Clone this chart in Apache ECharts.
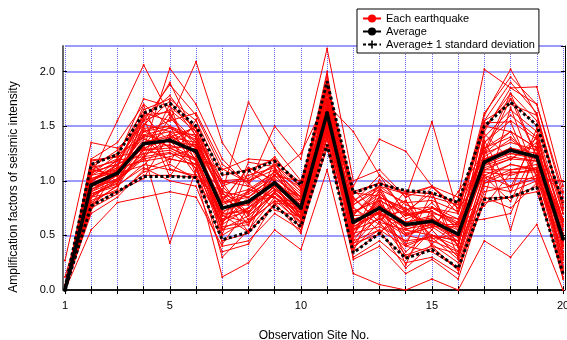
<!DOCTYPE html>
<html>
<head>
<meta charset="utf-8">
<script src="https://cdn.jsdelivr.net/npm/echarts@6/dist/echarts.min.js"></script>
<style>
  html, body { margin: 0; padding: 0; background: #fff; }
  #chart { width: 567px; height: 340px; }
</style>
</head>
<body>
<div id="chart"></div>
<script>
// observation sites 1..20
const sites = [1, 2, 3, 4, 5, 6, 7, 8, 9, 10, 11, 12, 13, 14, 15, 16, 17, 18, 19, 20];
const siteLabels = [1, 5, 10, 15, 20];

// mean and mean +/- 1 sd
const average = [0.00, 0.96, 1.07, 1.34, 1.37, 1.27, 0.75, 0.81, 0.98, 0.75, 1.62, 0.62, 0.75, 0.60, 0.63, 0.51, 1.17, 1.28, 1.22, 0.47];
const upperSd = [0.02, 1.15, 1.24, 1.62, 1.71, 1.50, 1.06, 1.09, 1.18, 0.96, 1.91, 0.89, 0.97, 0.91, 0.89, 0.80, 1.50, 1.72, 1.51, 0.80];
const lowerSd = [0.00, 0.77, 0.90, 1.04, 1.04, 1.03, 0.46, 0.53, 0.77, 0.58, 1.33, 0.34, 0.52, 0.29, 0.37, 0.20, 0.83, 0.85, 0.94, 0.15];

// each earthquake (one row per event)
const earthquakes = [
  [0.00,0.95,1.10,1.40,1.45,1.30,0.80,0.85,1.00,0.75,1.65,0.60,0.80,0.55,0.65,0.50,1.20,1.30,1.25,0.45],
  [0.02,1.15,1.25,1.65,1.75,1.55,1.05,1.10,1.20,0.95,1.90,0.90,0.98,0.90,0.88,0.80,1.50,1.75,1.50,0.80],
  [0.00,0.78,0.90,1.05,1.05,1.03,0.45,0.52,0.78,0.58,1.33,0.35,0.52,0.30,0.38,0.20,0.84,0.85,0.95,0.15],
  [0.27,1.35,1.30,1.50,1.90,1.40,0.95,0.70,1.10,0.85,1.70,0.75,0.60,0.45,0.70,0.40,1.35,1.60,1.40,0.60],
  [0.00,0.85,1.00,1.25,0.43,1.10,0.60,0.75,0.95,0.70,1.55,0.50,0.85,0.75,0.55,0.30,1.00,1.10,1.15,0.30],
  [0.05,1.05,1.55,2.06,1.60,1.35,0.70,0.90,1.05,0.80,1.80,0.65,0.70,0.40,0.50,0.45,1.25,1.45,1.30,0.55],
  [0.00,1.00,1.15,1.30,2.03,1.70,1.20,0.95,0.85,0.65,1.45,0.80,1.05,0.70,0.60,0.60,1.60,2.02,1.60,0.70],
  [0.00,0.90,1.05,1.45,1.55,2.09,1.35,1.00,1.15,0.90,2.00,0.45,0.75,0.60,0.80,0.55,1.10,1.20,1.35,0.50],
  [0.02,0.70,0.85,1.10,1.20,1.15,0.30,0.55,0.85,0.60,1.40,0.30,0.45,0.25,0.30,0.15,0.95,0.90,1.00,0.10],
  [0.00,1.10,1.20,1.55,1.65,1.45,0.90,1.72,1.30,1.00,1.75,0.70,0.90,0.65,0.75,0.70,1.30,1.40,1.20,0.65],
  [0.12,0.95,1.00,1.20,1.25,1.20,0.55,0.60,0.90,0.70,1.50,0.55,0.65,0.50,0.45,0.35,1.05,1.15,1.10,0.35],
  [0.00,1.20,1.35,1.70,1.50,1.40,1.00,0.95,1.50,1.20,2.21,1.00,1.10,0.85,0.95,0.75,1.45,1.85,1.70,0.85],
  [0.00,0.80,0.95,1.15,1.10,1.05,0.12,0.25,0.55,0.37,1.10,0.15,0.05,0.00,0.10,0.00,0.45,0.30,0.60,0.00],
  [0.00,1.00,1.10,1.35,1.40,1.25,0.75,0.80,1.00,0.80,1.60,0.60,0.75,0.60,0.65,0.55,1.20,1.25,1.20,0.45],
  [0.03,1.10,1.05,1.60,1.35,1.50,0.85,0.70,0.95,0.65,1.70,1.45,1.05,0.85,1.54,0.70,1.55,1.70,1.60,0.75],
  [0.00,0.88,0.98,1.28,1.30,1.18,0.65,0.72,0.92,0.72,1.58,0.55,0.72,0.50,0.58,0.42,1.12,1.20,1.18,0.40],
  [0.00,1.05,1.18,1.48,1.50,1.36,0.85,0.92,1.08,0.82,1.72,0.72,0.82,0.70,0.72,0.60,1.30,1.45,1.30,0.58],
  [0.00,0.92,1.02,1.32,1.62,1.22,0.68,0.62,0.88,0.68,1.55,0.42,0.68,0.35,0.55,0.30,1.08,1.05,1.12,0.25],
  [0.01,1.02,1.12,1.18,1.22,1.30,0.78,0.88,1.02,0.85,1.68,0.68,0.95,0.78,0.70,0.65,1.25,1.35,1.28,0.52],
  [0.00,0.82,0.92,1.58,1.78,1.45,0.95,1.05,1.12,0.90,1.85,0.85,0.62,0.55,0.50,0.40,1.40,1.65,1.45,0.70],
  [0.00,1.08,1.15,1.25,1.28,1.15,0.50,0.65,0.90,0.62,1.45,0.45,0.55,0.20,0.42,0.25,0.90,0.95,1.05,0.20],
  [0.04,0.98,1.08,1.42,1.48,1.38,0.88,0.78,1.00,0.78,1.62,0.62,0.78,0.62,0.68,0.52,1.18,1.30,1.22,0.50],
  [0.00,0.75,0.88,1.08,1.15,1.02,0.62,0.82,0.85,0.66,1.38,0.52,0.58,0.45,0.48,0.28,0.98,1.02,1.02,0.32],
  [0.00,1.12,1.28,1.55,1.88,1.60,1.10,1.20,1.18,0.98,1.88,0.88,0.98,0.88,0.85,0.78,1.48,1.80,1.55,0.78],
  [0.00,0.55,0.80,0.85,0.90,0.85,0.40,0.45,0.70,0.55,1.30,0.40,0.55,0.40,0.35,0.20,0.80,0.85,0.90,0.20],
  [0.00,0.95,1.05,1.38,1.32,1.28,0.72,0.80,0.98,0.75,1.64,0.58,0.70,0.58,0.62,0.48,1.15,1.25,1.22,0.48],
  [0.02,1.18,1.22,1.75,1.68,1.48,1.00,1.02,1.22,0.92,1.82,0.78,0.92,0.80,0.82,0.72,1.55,1.90,1.62,0.75],
  [0.00,0.85,1.00,1.22,1.40,1.35,0.58,0.62,0.82,0.62,1.48,0.38,0.62,0.32,0.40,0.18,1.02,1.15,1.10,0.22],
  [0.00,1.00,1.12,1.30,1.38,1.05,0.80,0.90,1.08,0.88,1.66,0.70,0.88,0.68,0.75,0.62,0.65,0.70,1.25,0.60],
  [0.00,0.92,1.05,1.48,1.30,1.20,0.70,0.72,0.96,0.74,1.60,0.62,0.76,0.62,0.66,0.50,1.22,1.38,1.20,0.42],
  [0.00,1.05,1.10,1.20,1.58,1.32,0.62,0.85,1.05,0.82,1.75,0.55,0.85,0.72,0.58,0.58,1.32,0.55,1.35,0.38],
  [0.00,0.88,0.95,1.30,1.20,1.15,0.92,0.68,0.88,0.70,1.52,0.68,0.70,0.52,0.60,0.45,1.10,1.10,1.12,0.50],
  [0.00,0.98,1.20,1.52,1.45,1.42,0.82,1.12,1.00,0.72,1.68,0.60,0.82,0.68,0.72,0.58,1.35,1.55,1.38,0.65],
  [0.00,0.78,0.96,1.12,1.00,0.95,0.35,0.42,0.80,0.52,1.42,0.28,0.40,0.15,0.28,0.10,0.85,0.75,0.98,0.12],
  [0.00,1.08,1.15,1.62,1.55,1.62,1.15,0.98,1.15,0.95,1.92,0.82,0.95,0.88,0.95,0.70,1.62,1.95,1.70,0.90],
  [0.01,0.95,1.08,1.35,1.42,1.25,0.75,0.78,0.98,0.78,1.62,0.62,0.78,0.60,0.62,0.50,1.20,1.28,1.22,0.48],
  [0.00,1.02,1.08,1.45,1.50,1.30,0.90,0.85,1.05,1.25,1.75,0.95,1.38,1.27,0.95,0.85,2.02,1.85,1.86,0.95],
  [0.00,0.90,1.00,1.28,1.33,1.20,0.68,0.75,0.92,0.74,1.58,0.58,0.72,0.56,0.60,0.48,1.14,1.22,1.18,0.44],
  [0.00,1.12,1.18,1.42,1.35,1.33,0.98,1.00,1.10,0.84,1.70,0.70,0.85,0.74,0.76,0.65,1.05,0.95,1.02,1.00],
  [0.00,0.86,1.02,1.22,1.26,1.12,0.56,0.68,0.90,0.66,1.50,0.48,0.66,0.42,0.50,0.36,0.98,1.08,1.08,0.30],
  [0.00,1.15,0.99,1.57,1.04,1.39,0.51,1.09,0.92,0.86,1.33,0.84,0.62,0.91,0.42,0.63,0.84,1.67,1.02,0.63],
  [0.00,0.77,1.19,1.22,1.70,1.05,0.90,0.59,1.19,0.65,1.82,0.35,0.93,0.41,0.89,0.30,1.37,0.89,1.48,0.34],
  [0.00,1.06,1.24,1.40,1.17,1.56,0.84,0.53,1.08,0.94,1.68,0.49,1.01,0.72,0.50,0.45,1.53,1.54,0.96,0.73],
  [0.00,0.85,0.90,1.02,1.44,1.20,1.11,0.98,0.73,0.67,1.88,0.76,0.53,0.69,0.94,0.75,1.04,0.81,1.31,0.82],
  [0.00,1.00,1.14,1.60,1.63,1.17,0.60,1.17,1.13,0.64,1.62,0.89,0.86,0.29,0.55,0.90,1.27,1.80,1.22,0.28],
  [0.00,0.92,1.07,1.14,1.40,1.49,0.42,0.75,1.04,1.00,1.45,0.65,0.71,0.82,0.40,0.33,1.24,1.75,1.22,0.47],
  [0.00,1.11,1.04,1.46,1.30,1.32,0.99,0.64,0.81,0.83,1.97,0.54,0.82,0.23,0.76,0.60,0.77,1.07,1.10,0.89],
  [0.00,0.73,1.12,1.69,1.11,1.03,0.81,1.12,1.00,0.54,1.54,0.92,0.68,0.72,0.89,0.39,1.43,1.19,1.39,0.18],
  [0.00,1.19,1.22,1.28,1.50,1.10,0.69,0.53,0.79,0.79,1.91,0.43,0.51,0.82,0.47,0.51,1.50,1.45,1.05,0.41],
  [0.00,0.88,0.97,1.51,1.73,1.41,0.63,0.92,0.85,0.71,1.39,0.78,0.95,0.51,0.58,0.81,1.20,0.94,1.42,0.63]
];

const FONT = 'Liberation Sans';
const plusIcon = 'path://M4,0H6V4H10V6H6V10H4V6H0V4H4Z';
const sdName = 'Average\u00B1 1 standard deviation';

function pairs(values) {
  return values.map((v, i) => [sites[i], v]);
}

const series = [];
earthquakes.forEach(row => {
  series.push({
    name: 'Each earthquake',
    type: 'line',
    data: pairs(row),
    symbol: 'circle',
    symbolSize: 2,
    itemStyle: { color: '#ff0000' },
    lineStyle: { color: '#ff0000', width: 1 },
    silent: true
  });
});
[upperSd, lowerSd].forEach(row => {
  series.push({
    name: sdName,
    type: 'line',
    data: pairs(row),
    symbol: plusIcon,
    symbolSize: 7,
    showSymbol: false,
    itemStyle: { color: '#000' },
    lineStyle: { color: '#000', width: 3, type: [3, 2.5] },
    z: 5
  });
});
series.push({
  name: 'Average',
  type: 'line',
  data: pairs(average),
  symbol: 'circle',
  symbolSize: 4,
  itemStyle: { color: '#000' },
  lineStyle: { color: '#000', width: 3.5 },
  z: 6
});

const chart = echarts.init(document.getElementById('chart'));
chart.setOption({
  animation: false,
  backgroundColor: '#fff',
  textStyle: { fontFamily: FONT },
  grid: { left: 65, right: 4, top: 46, bottom: 50, outerBoundsMode: 'none', containLabel: false },
  legend: {
    data: ['Each earthquake', 'Average', sdName],
    left: 357,
    top: 9,
    orient: 'vertical',
    itemWidth: 18,
    itemHeight: 10,
    itemGap: 2,
    padding: [4, 4, 3, 5],
    backgroundColor: '#fff',
    borderColor: '#000',
    borderWidth: 1,
    borderRadius: 0,
    textStyle: { fontFamily: FONT, fontSize: 11, color: '#000' },
    z: 10
  },
  xAxis: [
    {
      type: 'value',
      min: 1,
      max: 20,
      interval: 1,
      offset: 5,
      name: 'Observation Site No.',
      nameLocation: 'middle',
      nameGap: 35,
      nameTextStyle: { fontFamily: FONT, fontSize: 12, color: '#000' },
      axisLine: { lineStyle: { color: '#666', width: 2 } },
      axisTick: { inside: true, length: 4, lineStyle: { color: '#000' } },
      axisLabel: {
        margin: 5,
        fontSize: 11,
        color: '#000',
        formatter: v => (siteLabels.indexOf(v) >= 0 ? String(v) : '')
      },
      splitLine: { show: true, lineStyle: { color: '#6b6bff', type: [1, 1], width: 1 } }
    },
    {
      type: 'value',
      position: 'top',
      min: 1,
      max: 20,
      interval: 1,
      axisLine: { lineStyle: { color: '#000', width: 1.5 } },
      axisTick: { inside: true, length: 4, lineStyle: { color: '#000' } },
      axisLabel: { show: false },
      splitLine: { show: false }
    }
  ],
  yAxis: [
    {
      type: 'value',
      min: 0,
      max: 2.234,
      interval: 0.5,
      offset: 2,
      axisLine: { show: true, lineStyle: { color: '#666', width: 2 } },
      axisTick: { show: true, inside: true, length: 4, lineStyle: { color: '#000' } },
      axisLabel: {
        margin: 8,
        fontSize: 11,
        color: '#000',
        formatter: v => v.toFixed(1),
        showMaxLabel: false
      },
      splitLine: { show: true, lineStyle: { color: '#7a7aff', width: 1.5 } }
    },
    {
      type: 'value',
      position: 'right',
      min: 0,
      max: 2.234,
      interval: 0.5,
      offset: 2,
      axisLine: { show: true, lineStyle: { color: '#000', width: 1 } },
      axisTick: { show: true, inside: true, length: 4, lineStyle: { color: '#000' } },
      axisLabel: { show: false },
      splitLine: { show: false }
    }
  ],
  graphic: [
    {
      type: 'text',
      x: 14,
      y: 187,
      rotation: Math.PI / 2,
      style: {
        text: 'Amplification factors of seismic intensity',
        font: '12px "Liberation Sans"',
        fill: '#000',
        align: 'center',
        verticalAlign: 'middle'
      }
    }
  ],
  series: series
});
</script>
</body>
</html>
